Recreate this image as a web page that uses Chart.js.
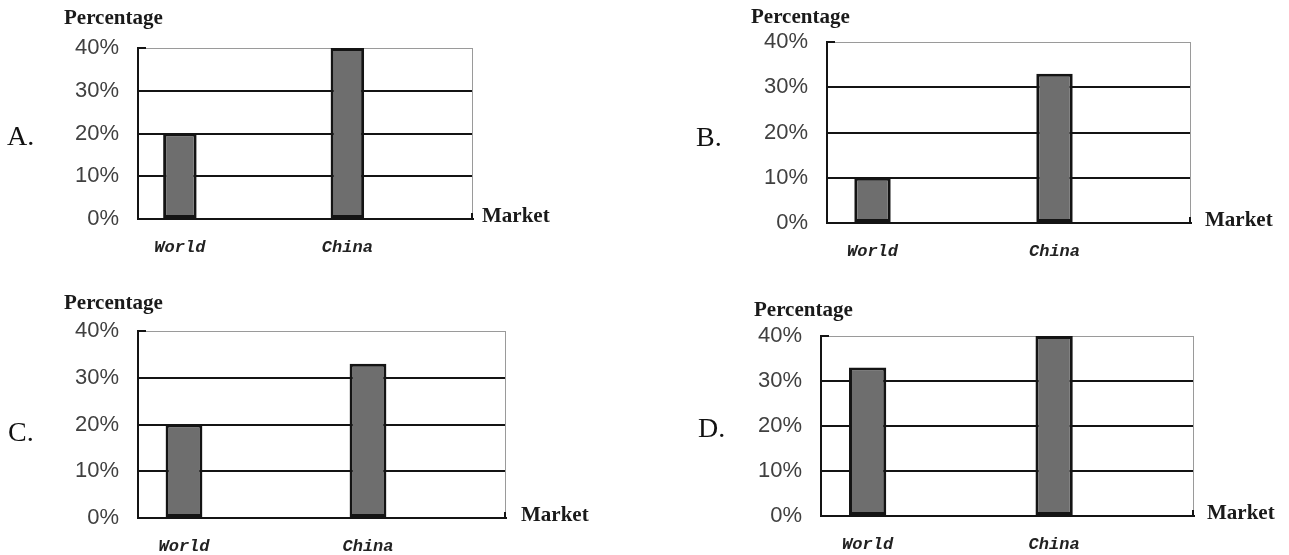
<!DOCTYPE html>
<html>
<head>
<meta charset="utf-8">
<script src="https://cdn.jsdelivr.net/npm/chart.js@4"></script>
<style>
  html, body { margin: 0; padding: 0; background: #fff; }
  #wrap { position: relative; width: 1289px; height: 555px; overflow: hidden; background: #fff; }
  #wrap canvas { position: absolute; }
</style>
</head>
<body>
<div id="wrap">
  <canvas id="panelA"></canvas>
  <canvas id="panelB"></canvas>
  <canvas id="panelC"></canvas>
  <canvas id="panelD"></canvas>
</div>
<script>
// ---- data ----
const categories = ['World', 'China'];
const yTicks = [0, 10, 20, 30, 40];
const optionLetters = ['A.', 'B.', 'C.', 'D.'];
const valuesA = [20, 40];
const valuesB = [10, 33];
const valuesC = [20, 33];
const valuesD = [33, 40];
const yTitle = 'Percentage';
const xTitle = 'Market';

// ---- panel layout (canvas placement and plot frame inside each canvas) ----
const panels = [
  { id: 'panelA', letter: optionLetters[0], values: valuesA, left: 0,   top: 0,   w: 640, h: 280,
    area: { left: 138, right: 473, top: 48, bottom: 219 }, letterPos: { x: 7, y: 145 },  titlePos: { x: 64, y: 24 },  marketGap: 9 },
  { id: 'panelB', letter: optionLetters[1], values: valuesB, left: 640, top: 0,   w: 649, h: 280,
    area: { left: 187, right: 551, top: 42, bottom: 223 }, letterPos: { x: 56, y: 146 }, titlePos: { x: 111, y: 23 }, marketGap: 14 },
  { id: 'panelC', letter: optionLetters[2], values: valuesC, left: 0,   top: 280, w: 640, h: 275,
    area: { left: 138, right: 506, top: 51, bottom: 238 }, letterPos: { x: 8, y: 161 },  titlePos: { x: 64, y: 29 },  marketGap: 15 },
  { id: 'panelD', letter: optionLetters[3], values: valuesD, left: 640, top: 280, w: 649, h: 275,
    area: { left: 181, right: 554, top: 56, bottom: 236 }, letterPos: { x: 58, y: 157 }, titlePos: { x: 114, y: 36 }, marketGap: 13 }
];

const INK = '#141414';
const FRAME_GREY = '#9a9a9a';
const yMin = yTicks[0];
const yMax = yTicks[yTicks.length - 1];
const yStep = yTicks[1] - yTicks[0];

// Frame details and the option letter / axis captions
const panelDecor = {
  id: 'panelDecor',
  beforeDatasetsDraw(chart) {
    const { ctx, chartArea: a } = chart;
    ctx.save();
    ctx.strokeStyle = FRAME_GREY;
    ctx.lineWidth = 1;
    ctx.beginPath();
    ctx.moveTo(a.right - 0.5, a.top);
    ctx.lineTo(a.right - 0.5, a.bottom);
    ctx.stroke();
    ctx.strokeStyle = INK;
    ctx.lineWidth = 2;
    ctx.beginPath();
    ctx.moveTo(a.left, a.top);
    ctx.lineTo(a.left + 8, a.top);
    ctx.moveTo(a.right - 1, a.bottom);
    ctx.lineTo(a.right - 1, a.bottom - 6);
    ctx.stroke();
    ctx.restore();
  },
  afterDraw(chart, args, opts) {
    const { ctx, chartArea: a } = chart;
    ctx.save();
    ctx.fillStyle = '#111';
    ctx.textBaseline = 'alphabetic';
    ctx.textAlign = 'left';
    ctx.font = '28px "Liberation Serif"';
    ctx.fillText(opts.letter, opts.letterPos.x, opts.letterPos.y);
    ctx.fillStyle = '#1a1a1a';
    ctx.font = 'bold 21px "Liberation Serif"';
    ctx.fillText(yTitle, opts.titlePos.x, opts.titlePos.y);
    ctx.fillText(xTitle, a.right + opts.marketGap, a.bottom + 3);
    ctx.restore();
  }
};

panels.forEach(p => {
  const canvas = document.getElementById(p.id);
  canvas.width = p.w;
  canvas.height = p.h;
  canvas.style.left = p.left + 'px';
  canvas.style.top = p.top + 'px';
  canvas.style.width = p.w + 'px';
  canvas.style.height = p.h + 'px';

  // each category is followed by an empty slot
  const slotLabels = categories.flatMap(c => [c, '']);
  const slotData = p.values.flatMap(v => [v, null]);

  new Chart(canvas, {
    type: 'bar',
    data: {
      labels: slotLabels,
      datasets: [{
        data: slotData,
        backgroundColor: '#6e6e6e',
        borderColor: INK,
        borderWidth: 3,
        borderSkipped: false,
        barPercentage: 0.4,
        categoryPercentage: 1.0
      }]
    },
    options: {
      responsive: false,
      animation: false,
      devicePixelRatio: 1,
      layout: { padding: { left: 0, right: p.w - p.area.right, top: p.area.top, bottom: 0 } },
      plugins: {
        legend: { display: false },
        tooltip: { enabled: false },
        panelDecor: { letter: p.letter, letterPos: p.letterPos, titlePos: p.titlePos, marketGap: p.marketGap }
      },
      scales: {
        x: {
          offset: true,
          grid: { display: false, drawTicks: false },
          border: { display: true, color: INK, width: 2 },
          ticks: {
            autoSkip: false,
            maxRotation: 0,
            padding: 19,
            color: '#222',
            font: { family: '"Liberation Mono"', style: 'italic', weight: 'bold', size: 17 }
          },
          afterFit(scale) { scale.height = p.h - p.area.bottom; }
        },
        y: {
          min: yMin,
          max: yMax,
          grid: {
            drawTicks: false,
            color: ctx => (ctx.tick && ctx.tick.value === yMax) ? FRAME_GREY : INK,
            lineWidth: ctx => (ctx.tick && ctx.tick.value === yMax) ? 1 : 2
          },
          border: { display: true, color: INK, width: 2 },
          ticks: {
            stepSize: yStep,
            padding: 19,
            color: '#404040',
            font: { family: '"Liberation Sans"', size: 22 },
            callback: v => v + '%'
          },
          afterFit(scale) { scale.width = p.area.left; }
        }
      }
    },
    plugins: [panelDecor]
  });
});
</script>
</body>
</html>
